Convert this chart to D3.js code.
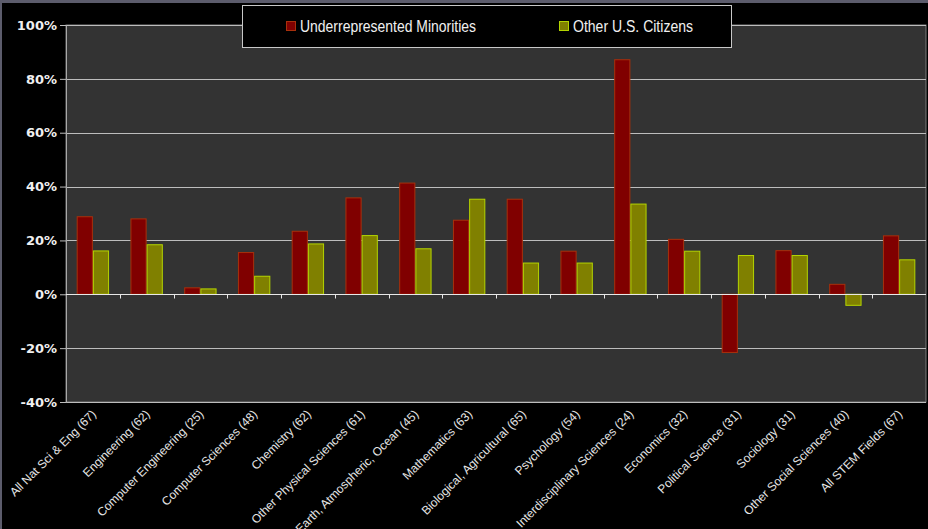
<!DOCTYPE html>
<html>
<head>
<meta charset="utf-8">
<script src="https://cdn.jsdelivr.net/npm/d3@7"></script>
<style>
  html, body { margin: 0; padding: 0; background: #000; }
  svg { display: block; }
</style>
</head>
<body>
<script>
const categories = [
  "All Nat Sci & Eng (67)", "Engineering (62)", "Computer Engineering (25)",
  "Computer Sciences (48)", "Chemistry (62)", "Other Physical Sciences (61)",
  "Earth, Atmospheric, Ocean (45)", "Mathematics (63)", "Biological, Agricultural (65)",
  "Psychology (54)", "Interdisciplinary Sciences (24)", "Economics (32)",
  "Political Science (31)", "Sociology (31)", "Other Social Sciences (40)",
  "All STEM Fields (67)"
];
const seriesNames = ["Underrepresented Minorities", "Other U.S. Citizens"];
const minorities = [28.8, 28.0, 2.4, 15.5, 23.4, 35.8, 41.3, 27.5, 35.3, 16.0, 87.1, 20.4, -21.6, 16.2, 3.7, 21.7];
const others     = [16.1, 18.4, 2.0, 6.7, 18.7, 21.8, 16.9, 35.3, 11.6, 11.6, 33.5, 16.0, 14.4, 14.4, -4.1, 12.8];
const yTicks = [-40, -20, 0, 20, 40, 60, 80, 100];

const W = 928, H = 529;
const m = { left: 66, right: 2, top: 25, bottom: 127 };
const fills = ["#800000", "#808000"];
const strokes = ["#a8300c", "#b4d400"];

const svg = d3.select("body").append("svg").attr("width", W).attr("height", H);
svg.append("rect").attr("width", W).attr("height", H).attr("fill", "#000");
// outer frame (top/left gray bands)
svg.append("rect").attr("x", 0).attr("y", 0).attr("width", W).attr("height", 3).attr("fill", "#5c5c6c");
svg.append("rect").attr("x", 0).attr("y", 0).attr("width", 2).attr("height", H).attr("fill", "#5c5c6c");

const x = d3.scaleBand().domain(categories).range([m.left, W - m.right]).padding(0);
const y = d3.scaleLinear().domain([-40, 100]).range([H - m.bottom, m.top]);
const xs = d3.scaleBand().domain([0, 1]).range([0, x.bandwidth()]).paddingInner(0).paddingOuter(0.66);

// plot area
svg.append("rect")
  .attr("x", m.left).attr("y", m.top)
  .attr("width", W - m.right - m.left).attr("height", y(-40) - m.top)
  .attr("fill", "#333333").attr("stroke", "#7a7a7a").attr("stroke-width", 1);

// gridlines
svg.append("g").selectAll("line").data(yTicks.filter(d => d !== 0 && d !== -40))
  .join("line")
  .attr("x1", m.left).attr("x2", W - m.right)
  .attr("y1", d => Math.round(y(d)) + 0.5).attr("y2", d => Math.round(y(d)) + 0.5)
  .attr("stroke", "#bdbdbd").attr("stroke-width", 1);
svg.append("line")
  .attr("x1", m.left).attr("x2", W - m.right)
  .attr("y1", Math.round(y(-40)) + 0.5).attr("y2", Math.round(y(-40)) + 0.5)
  .attr("stroke", "#bdbdbd");

// bars
const data = categories.map((c, i) => ({ c, vals: [minorities[i], others[i]] }));
const groups = svg.append("g").selectAll("g").data(data).join("g")
  .attr("transform", d => `translate(${x(d.c)},0)`);
groups.selectAll("rect").data(d => d.vals.map((v, k) => ({ v, k })))
  .join("rect")
  .attr("x", d => xs(d.k) + 0.5)
  .attr("width", xs.bandwidth() - 1)
  .attr("y", d => y(Math.max(0, d.v)))
  .attr("height", d => Math.abs(y(d.v) - y(0)))
  .attr("fill", d => fills[d.k])
  .attr("stroke", d => strokes[d.k])
  .attr("stroke-width", 1);

// y axis
const yAxis = svg.append("g").attr("transform", `translate(${m.left},0)`)
  .call(d3.axisLeft(y).tickValues(yTicks).tickFormat(d => d + "%").tickSize(6).tickSizeOuter(0));
yAxis.select(".domain").attr("stroke", "#a8a8a8");
yAxis.selectAll(".tick line").attr("stroke", "#bdbdbd");
yAxis.selectAll(".tick text").attr("fill", "#f0f0f0")
  .attr("font-family", "DejaVu Sans, Verdana, sans-serif")
  .attr("font-weight", "bold").attr("font-size", 13).attr("x", -9);

// zero axis with ticks at band boundaries
const y0 = Math.round(y(0)) + 0.5;
svg.append("line").attr("x1", m.left).attr("x2", W - m.right)
  .attr("y1", y0).attr("y2", y0).attr("stroke", "#e8e8e8").attr("stroke-width", 1.2);
svg.append("g").selectAll("line").data(categories.slice(1))
  .join("line")
  .attr("x1", d => Math.round(x(d)) + 0.5).attr("x2", d => Math.round(x(d)) + 0.5)
  .attr("y1", y0).attr("y2", y0 + 4)
  .attr("stroke", "#e8e8e8");

// x labels
svg.append("g").selectAll("text").data(categories).join("text")
  .attr("transform", d => `translate(${x(d) + x.bandwidth() / 2 + 1},${y(-40) + 10}) rotate(-45)`)
  .attr("text-anchor", "end")
  .attr("dy", "0.35em")
  .attr("fill", "#e6e6e6")
  .attr("font-family", "Liberation Sans, Arial, sans-serif")
  .attr("font-size", 12)
  .text(d => d);

// legend
const lg = svg.append("g");
lg.append("rect").attr("x", 242.5).attr("y", 5.5).attr("width", 489).attr("height", 42)
  .attr("fill", "#000").attr("stroke", "#c8c8c8").attr("stroke-width", 1);
const legX = [286, 559];
const legLen = [176, 120];
seriesNames.forEach((n, k) => {
  lg.append("rect").attr("x", legX[k] + 0.5).attr("y", 21.5).attr("width", 9).attr("height", 9)
    .attr("fill", fills[k]).attr("stroke", strokes[k]);
  lg.append("text").attr("x", legX[k] + 14).attr("y", 26).attr("dy", "0.35em")
    .attr("fill", "#f0f0f0").attr("font-family", "Liberation Sans, Arial, sans-serif")
    .attr("font-size", 16)
    .attr("textLength", legLen[k]).attr("lengthAdjust", "spacingAndGlyphs")
    .text(n);
});
</script>
</body>
</html>
